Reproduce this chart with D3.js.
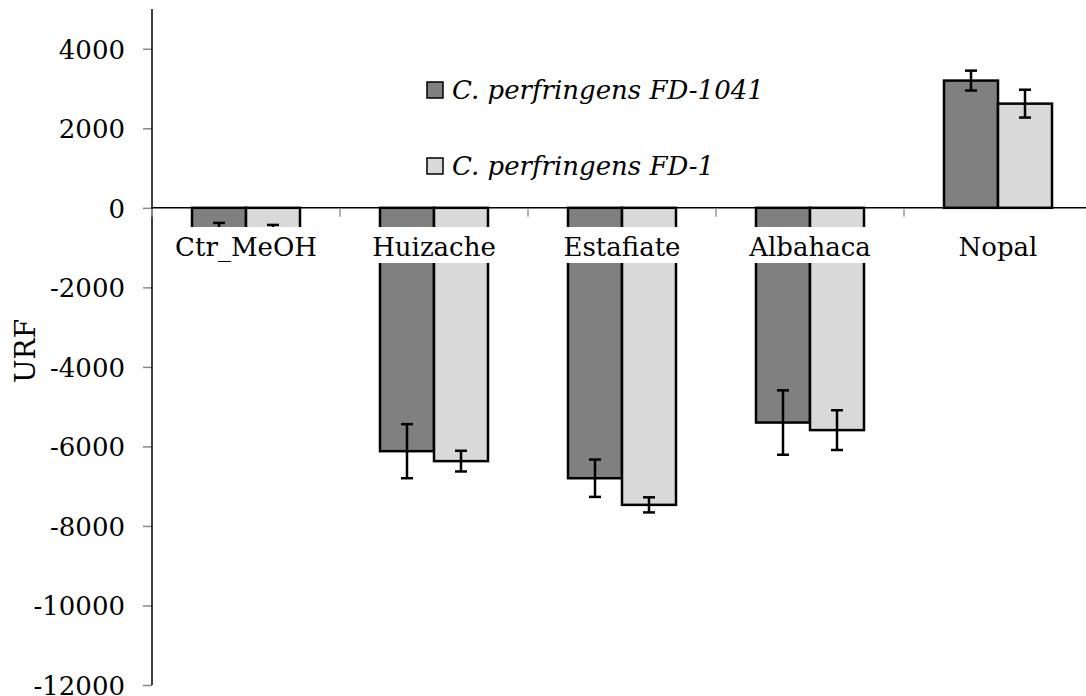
<!DOCTYPE html>
<html>
<head>
<meta charset="utf-8">
<script src="https://cdn.jsdelivr.net/npm/d3@7"></script>
<style>
  body { margin: 0; background: #fff; }
  svg text { font-family: "DejaVu Serif", serif !important; }
</style>
</head>
<body>
<svg id="chart" width="1086" height="696"></svg>
<script>
// values
const categories = ['Ctr_MeOH', 'Huizache', 'Estafiate', 'Albahaca', 'Nopal'];
const seriesNames = ['C. perfringens FD-1041', 'C. perfringens FD-1'];
const fd1041 = [-600, -6120, -6800, -5400, 3200];
const fd1041Err = [220, 680, 470, 810, 250];
const fd1 = [-550, -6370, -7470, -5590, 2620];
const fd1Err = [120, 260, 190, 500, 350];
const yTicks = [4000, 2000, 0, -2000, -4000, -6000, -8000, -10000, -12000];

const colors = ['#808080', '#d9d9d9'];
const svg = d3.select('#chart');
const fontSize = 26;

const x = d3.scaleBand().domain(categories).range([152, 1092]);
const inner = d3.scaleBand().domain(seriesNames).range([40, 148]);
const y = d3.scaleLinear().domain([-12000, 5000]).range([685, 9]);

const rows = [];
categories.forEach((c, i) => {
  rows.push({cat: c, s: seriesNames[0], v: fd1041[i], e: fd1041Err[i], color: colors[0]});
  rows.push({cat: c, s: seriesNames[1], v: fd1[i], e: fd1Err[i], color: colors[1]});
});

// y axis
const yAxis = svg.append('g')
  .attr('transform', 'translate(152,0)')
  .call(d3.axisLeft(y).tickValues(yTicks).tickSize(9).tickPadding(18).tickFormat(d => d));
yAxis.attr('font-family', null).attr('font-size', null);
yAxis.select('.domain').remove();
yAxis.selectAll('.tick line').attr('stroke', '#888').attr('stroke-width', 1.5);
yAxis.selectAll('.tick text')
  .attr('font-size', fontSize)
  .attr('dy', '0.36em')
  .attr('fill', '#000');
svg.append('line')
  .attr('x1', 152).attr('x2', 152)
  .attr('y1', 9).attr('y2', y(-12000))
  .attr('stroke', '#000').attr('stroke-width', 1.5);

// x axis line and tick marks at category boundaries
svg.append('line')
  .attr('x1', 152).attr('x2', 1086)
  .attr('y1', y(0)).attr('y2', y(0))
  .attr('stroke', '#000').attr('stroke-width', 1.5);
svg.append('g').selectAll('line')
  .data(categories)
  .join('line')
  .attr('x1', d => x(d)).attr('x2', d => x(d))
  .attr('y1', y(0) + 1).attr('y2', y(0) + 9)
  .attr('stroke', '#999').attr('stroke-width', 1.5);

// bars
svg.append('g').selectAll('rect')
  .data(rows)
  .join('rect')
  .attr('x', d => x(d.cat) + inner(d.s))
  .attr('width', inner.bandwidth())
  .attr('y', d => y(Math.max(0, d.v)))
  .attr('height', d => Math.abs(y(d.v) - y(0)))
  .attr('fill', d => d.color)
  .attr('stroke', '#000')
  .attr('stroke-width', 2.5);

// error bars
const err = svg.append('g').attr('stroke', '#000').attr('stroke-width', 2.5);
rows.forEach(d => {
  const cx = x(d.cat) + inner(d.s) + inner.bandwidth() / 2;
  err.append('line').attr('x1', cx).attr('x2', cx).attr('y1', y(d.v + d.e)).attr('y2', y(d.v - d.e));
  err.append('line').attr('x1', cx - 6).attr('x2', cx + 6).attr('y1', y(d.v + d.e)).attr('y2', y(d.v + d.e));
  err.append('line').attr('x1', cx - 6).attr('x2', cx + 6).attr('y1', y(d.v - d.e)).attr('y2', y(d.v - d.e));
});

// category labels, drawn on a white box over the bars
const labels = svg.append('g');
categories.forEach(c => {
  const g = labels.append('g');
  const bg = g.append('rect').attr('fill', '#fff');
  const t = g.append('text')
    .attr('x', x(c) + x.bandwidth() / 2)
    .attr('y', 256)
    .attr('text-anchor', 'middle')
    .attr('font-size', fontSize)
    .text(c);
  const bb = t.node().getBBox();
  bg.attr('x', bb.x - 4).attr('y', 227).attr('width', bb.width + 8).attr('height', 36);
});

// y title
svg.append('text')
  .attr('transform', 'rotate(-90)')
  .attr('x', -351)
  .attr('y', 35)
  .attr('text-anchor', 'middle')
  .attr('font-size', fontSize + 2)
  .text('URF');

// legend
const legend = svg.append('g');
[[0, 82], [1, 158]].forEach(([i, top]) => {
  legend.append('rect')
    .attr('x', 427).attr('y', top)
    .attr('width', 16).attr('height', 16)
    .attr('fill', colors[i])
    .attr('stroke', '#000').attr('stroke-width', 1.5);
  legend.append('text')
    .attr('x', 452).attr('y', top + 17)
    .attr('font-size', fontSize)
    .attr('font-style', 'italic')
    .text(seriesNames[i]);
});
</script>
</body>
</html>
